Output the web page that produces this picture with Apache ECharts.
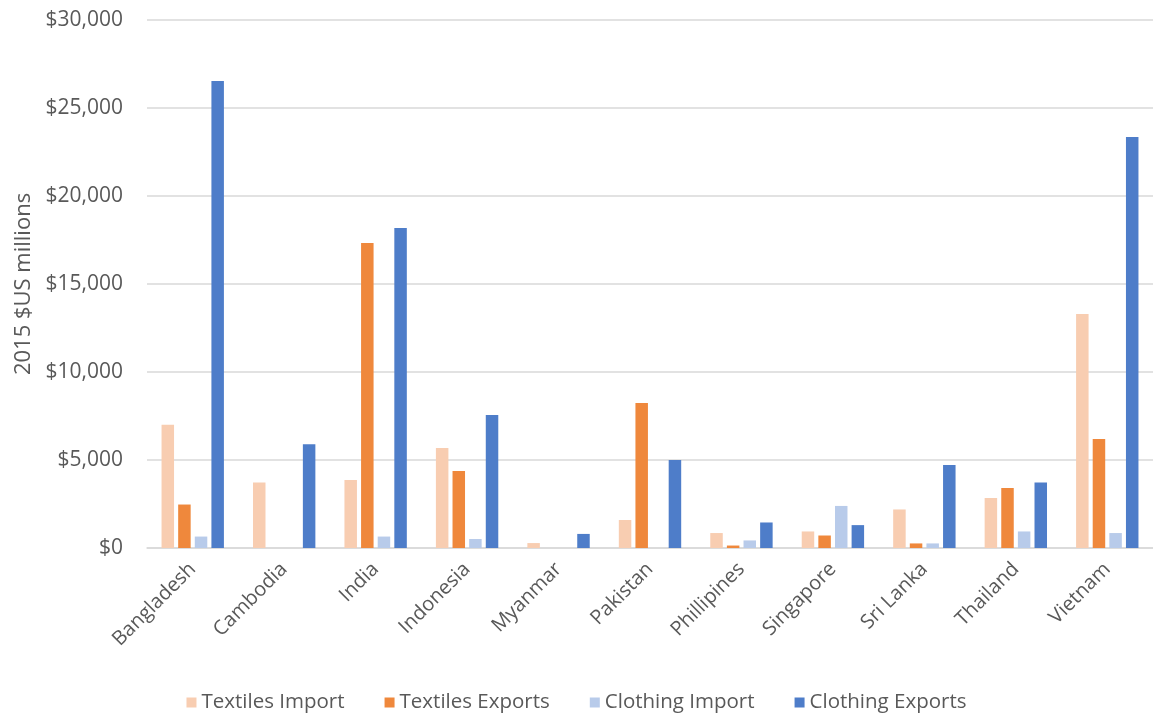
<!DOCTYPE html>
<html><head><meta charset="utf-8">
<script src="https://cdn.jsdelivr.net/npm/echarts@6/dist/echarts.min.js"></script>
<style>html,body{margin:0;padding:0;background:#fff}#c{width:1153px;height:715px}</style>
</head><body><div id="c"></div>
<script>
const categories = ['Bangladesh','Cambodia','India','Indonesia','Myanmar','Pakistan','Phillipines','Singapore','Sri Lanka','Thailand','Vietnam'];
const textilesImport  = [7000, 3720, 3860, 5680, 280, 1590, 850, 940, 2190, 2840, 13300];
const textilesExports = [2470, 0, 17330, 4380, 0, 8240, 140, 710, 260, 3410, 6190];
const clothingImport  = [650, 0, 650, 510, 0, 0, 430, 2390, 260, 940, 850];
const clothingExports = [26530, 5900, 18180, 7560, 800, 5000, 1450, 1300, 4720, 3720, 23350];
const yTicks = [0, 5000, 10000, 15000, 20000, 25000, 30000];

const FONT = '"Open Sans", sans-serif';
const txt = '#595959';
const chart = echarts.init(document.getElementById('c'));
const mk = (name, data, color) => ({
  name, type: 'bar', data, barWidth: 12.5, barGap: '33%',
  itemStyle: { color }
});
chart.setOption({
  animation: false,
  textStyle: { fontFamily: FONT },
  grid: { left: 147, right: -6, top: 20, bottom: 167 },
  legend: {
    top: 687, left: 'center', itemWidth: 10, itemHeight: 10, itemGap: 40, icon: 'rect',
    textStyle: { fontFamily: FONT, fontSize: 20.5, color: txt }
  },
  xAxis: {
    type: 'category', data: categories,
    axisTick: { show: false },
    axisLine: { lineStyle: { color: '#D9D9D9', width: 1.5 } },
    axisLabel: { rotate: 45, fontFamily: FONT, fontSize: 20, color: txt, margin: 18, interval: 0 }
  },
  yAxis: {
    type: 'value', min: yTicks[0], max: yTicks[yTicks.length - 1], interval: 5000,
    name: '2015 $US millions', nameLocation: 'middle', nameGap: 111, nameRotate: 90,
    nameTextStyle: { fontFamily: FONT, fontSize: 22, color: txt },
    axisLabel: {
      fontFamily: FONT, fontSize: 21, color: txt, margin: 24,
      formatter: v => '$' + v.toLocaleString('en-US')
    },
    splitLine: { lineStyle: { color: '#D9D9D9', width: 1.5 } },
    axisLine: { show: false }, axisTick: { show: false }
  },
  series: [
    mk('Textiles Import', textilesImport, '#F8CDB1'),
    mk('Textiles Exports', textilesExports, '#EF883C'),
    mk('Clothing Import', clothingImport, '#B8CBEA'),
    mk('Clothing Exports', clothingExports, '#4E7DC9')
  ]
});
</script></body></html>
